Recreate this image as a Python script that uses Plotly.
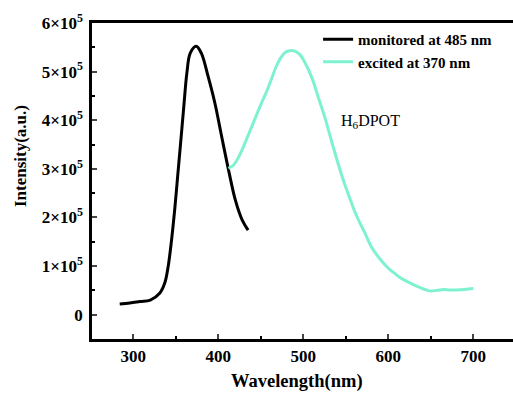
import plotly.graph_objects as go

# Excitation spectrum (monitored at 485 nm)
exc_wl = [284, 296, 308, 320, 331, 337, 341, 345, 349, 352.5, 356, 359.5, 363, 367, 374, 380, 388, 396, 404, 412, 420, 428, 435]
exc_int = [0.22e5, 0.24e5, 0.27e5, 0.30e5, 0.44e5, 0.65e5, 0.99e5, 1.54e5, 2.22e5, 2.91e5, 3.6e5, 4.3e5, 4.97e5, 5.38e5, 5.52e5, 5.38e5, 4.9e5, 4.35e5, 3.66e5, 2.98e5, 2.36e5, 1.95e5, 1.74e5]

# Emission spectrum (excited at 370 nm)
em_wl = [412, 418, 425, 433, 441, 449, 457, 463, 468, 474, 479, 484, 490, 496, 503, 511, 518, 525, 535, 547, 555, 563, 572, 580, 590, 600, 606, 615, 626, 637, 649, 657, 665, 672, 680, 690, 700]
em_int = [3.01e5, 3.08e5, 3.28e5, 3.6e5, 3.94e5, 4.28e5, 4.6e5, 4.87e5, 5.1e5, 5.3e5, 5.4e5, 5.43e5, 5.42e5, 5.35e5, 5.15e5, 4.83e5, 4.45e5, 4.08e5, 3.46e5, 2.77e5, 2.38e5, 2.02e5, 1.70e5, 1.40e5, 1.15e5, 0.955e5, 0.87e5, 0.75e5, 0.65e5, 0.56e5, 0.49e5, 0.5e5, 0.52e5, 0.51e5, 0.51e5, 0.52e5, 0.54e5]

y_tickvals = [0, 1e5, 2e5, 3e5, 4e5, 5e5, 6e5]
y_ticktext = ["0", "1×10<sup>5</sup>", "2×10<sup>5</sup>", "3×10<sup>5</sup>", "4×10<sup>5</sup>", "5×10<sup>5</sup>", "6×10<sup>5</sup>"]
x_tickvals = [300, 400, 500, 600, 700]

FONT = "Liberation Serif"

fig = go.Figure()
fig.add_trace(go.Scatter(x=exc_wl, y=exc_int, mode="lines", name="monitored at 485 nm",
                         line=dict(color="black", width=3, shape="spline", smoothing=1.0)))
fig.add_trace(go.Scatter(x=em_wl, y=em_int, mode="lines", name="excited at 370 nm",
                         line=dict(color="#7EF2D0", width=3, shape="spline", smoothing=1.0)))

fig.add_annotation(x=542, y=3.97e5, text="H<sub>6</sub>DPOT", showarrow=False, xanchor="left",
                   yanchor="middle", font=dict(family=FONT, size=16, color="black"))

# Axis titles
fig.add_annotation(xref="paper", yref="paper", x=-0.171, y=0.579, text="Intensity(a.u.)", textangle=-90,
                   showarrow=False, xanchor="center", yanchor="middle",
                   font=dict(family=FONT, size=17, weight="bold", color="black"))
fig.add_annotation(xref="paper", yref="paper", x=0.487, y=-0.133, text="Wavelength(nm)",
                   showarrow=False, xanchor="center", yanchor="middle",
                   font=dict(family=FONT, size=18.5, weight="bold", color="black"))

fig.update_layout(
    width=513, height=394,
    margin=dict(l=92, r=0, t=23, b=55),
    plot_bgcolor="white", paper_bgcolor="white",
    font=dict(family=FONT, color="black"),
    showlegend=True,
    legend=dict(x=0.537, y=1.0, xanchor="left", yanchor="top", bgcolor="rgba(0,0,0,0)",
                font=dict(family=FONT, size=15, weight="bold"), tracegroupgap=0,
                itemwidth=30),
)
fig.update_xaxes(
    range=[251.4, 746.7], tickvals=x_tickvals, ticks="inside", ticklen=5, tickwidth=2,
    showline=True, linecolor="black", linewidth=2.5, mirror=True, showgrid=False, zeroline=False,
    tickfont=dict(family=FONT, size=17, weight="bold"),
    minor=dict(tickmode="linear", tick0=250, dtick=50, ticks="inside", ticklen=3, tickwidth=2, tickcolor="black", showgrid=False),
)
fig.update_yaxes(
    range=[-0.5e5, 6e5], tickvals=y_tickvals, ticktext=y_ticktext, ticks="inside", ticklen=5, tickwidth=2,
    showline=True, linecolor="black", linewidth=2.5, mirror=False, showgrid=False, zeroline=False,
    tickfont=dict(family=FONT, size=17, weight="bold"), ticklabelstandoff=3,
    minor=dict(tickmode="linear", tick0=0, dtick=0.5e5, ticks="inside", ticklen=3, tickwidth=2, tickcolor="black", showgrid=False),
)

fig.write_html("out.html")
